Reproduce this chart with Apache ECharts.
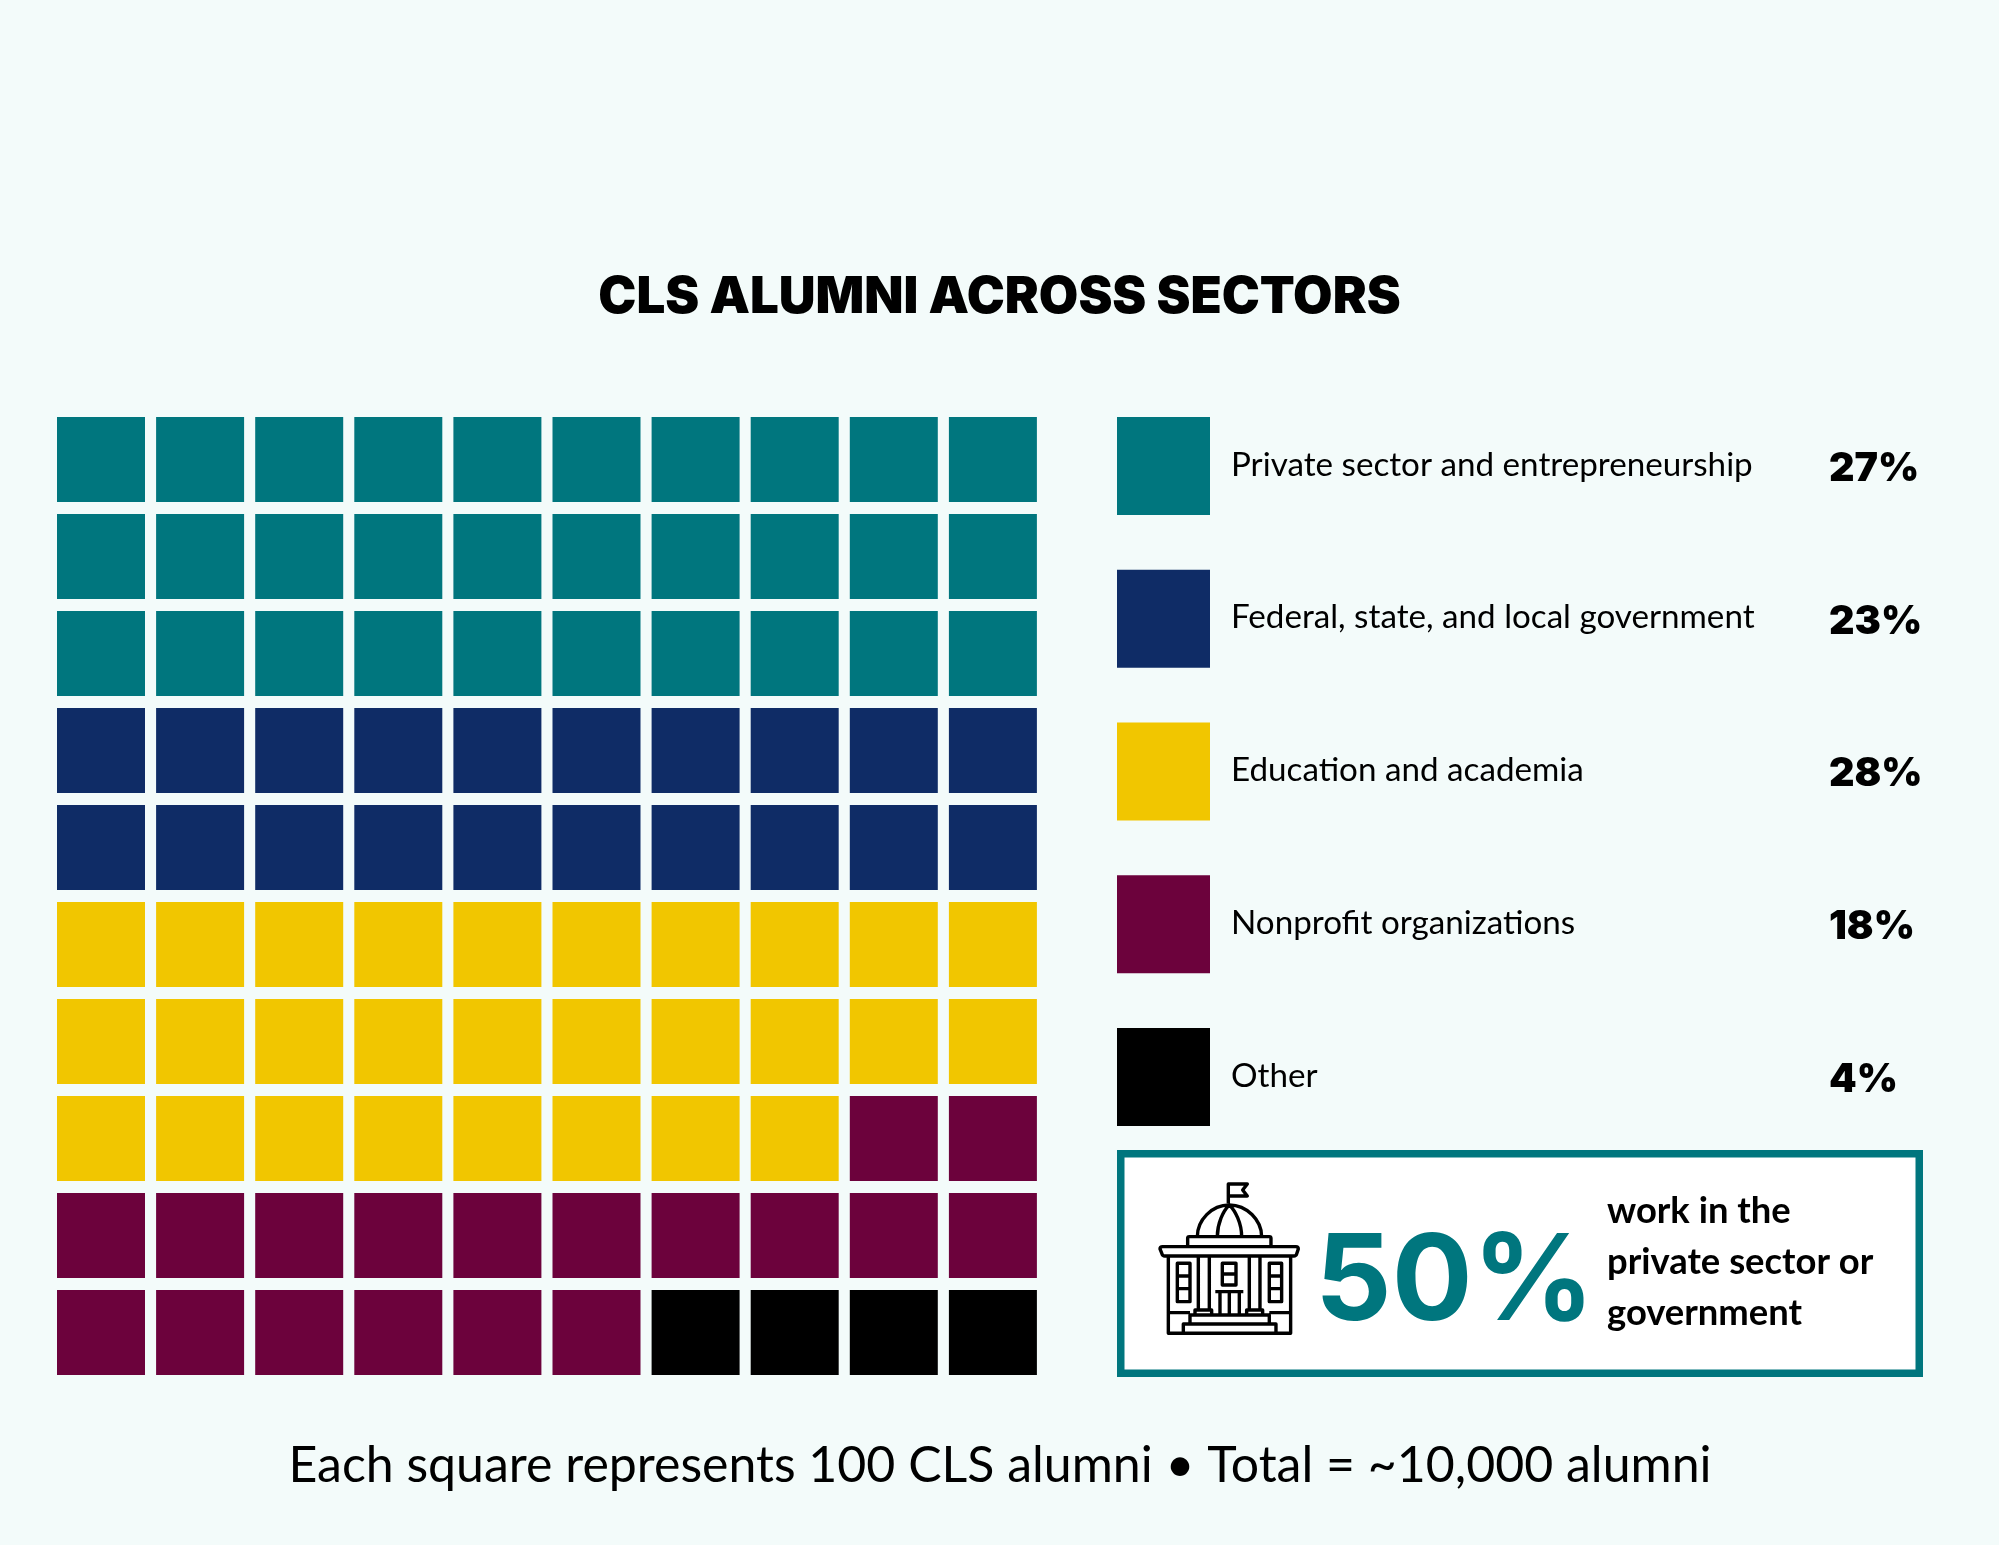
<!DOCTYPE html>
<html><head><meta charset="utf-8">
<style>html,body{margin:0;padding:0;background:#f3fbfa}#c{width:1999px;height:1545px}</style>
<script src="https://cdn.jsdelivr.net/npm/echarts@6/dist/echarts.min.js"></script>
</head><body><div id="c"></div>
<script>
const sectors = ['Private sector and entrepreneurship','Federal, state, and local government','Education and academia','Nonprofit organizations','Other'];
const sharePercent = [27,23,28,18,4];
const squareCounts = [30,20,28,18,4];
const sectorColors = ['#00767e','#0f2c66','#f1c600','#6c023c','#000000'];
const columns = [0,1,2,3,4,5,6,7,8,9];
const rows = [0,1,2,3,4,5,6,7,8,9];
const titleText = 'CLS ALUMNI ACROSS SECTORS';
const footerText = 'Each square represents 100 CLS alumni • Total = ~10,000 alumni';
const calloutValue = '50%';
const calloutLines = ['work in the','private sector or','government'];

const squares = [];
let n = 0;
squareCounts.forEach((count, s) => { for (let i = 0; i < count; i++, n++) squares.push([n % 10, Math.floor(n / 10), s]); });

const FONT = 'Lato';
const HEAVY = 'Inter';
const iconPath = 'M265,100V42H322L308,60L322,78H265 M172,200C172,150 215,105 268,105C320,105 365,150 365,200 M232,200C232,160 250,122 268,105C286,122 305,160 305,200 M143,228V205Q143,200 148,200H388Q393,200 393,205V228 M68,230H468Q475,230 475,237L470,252Q468,258 462,258H74Q68,258 66,252L60,237Q60,230 68,230Z M85,258V490H452V258 M175,258V420M208,258V420M328,258V420M360,258V420 M165,435V420H215V435 M320,435V420H368V435 M112,280H150V395H112Z M112,318H150M112,356H150 M388,280H425V395H388Z M388,318H425M388,356H425 M247,280H288V345H247Z M247,312H288 M226,365H310 M240,365V435M268,365V435M298,365V435 M85,428H150M388,428H452 M150,462V435H388V462 M130,490V462H408V490';

const chart = echarts.init(document.getElementById('c'), null, {renderer:'canvas'});
chart.setOption({
  animation:false,
  backgroundColor:'#f3fbfa',
  title:{text:titleText,left:'center',top:267,textStyle:{fontFamily:HEAVY,fontWeight:900,fontSize:51,color:'#000'}},
  grid:[
    {left:51.45,top:411,width:991,height:970},
    {left:1117,top:389.6,width:806,height:763.8}
  ],
  xAxis:[
    {type:'category',gridIndex:0,data:columns,show:false},
    {type:'value',gridIndex:1,min:0,max:1,show:false}
  ],
  yAxis:[
    {type:'category',gridIndex:0,data:rows,inverse:true,show:false},
    {type:'category',gridIndex:1,data:sectors,inverse:true,show:false}
  ],
  series:[
    {type:'custom',xAxisIndex:0,yAxisIndex:0,coordinateSystem:'cartesian2d',data:squares,silent:true,
     renderItem(p,api){
       const c=api.coord([api.value(0),api.value(1)]);
       const w=88,h=85;
       return {type:'rect',shape:{x:c[0]-w/2,y:c[1]-h/2,width:w,height:h},style:{fill:sectorColors[api.value(2)]}};
     }},
    {type:'custom',xAxisIndex:1,yAxisIndex:1,coordinateSystem:'cartesian2d',silent:true,
     data:sectors.map((s,i)=>[0,i]),
     renderItem(p,api){
       const i=api.value(1);
       const c=api.coord([0,i]);
       return {type:'group',children:[
         {type:'rect',shape:{x:c[0],y:c[1]-49,width:93,height:98},style:{fill:sectorColors[i]}},
         {type:'text',x:c[0]+114,y:c[1]-1,style:{text:sectors[i],fontFamily:FONT,fontSize:33.2,fill:'#000',verticalAlign:'middle'}},
         {type:'text',x:c[0]+712,y:c[1]+3,style:{text:sharePercent[i]+'%',fontFamily:HEAVY,fontWeight:900,fontSize:39.5,fill:'#000',verticalAlign:'middle'}}
       ]};
     }},
    {type:'custom',coordinateSystem:'none',silent:true,data:[0],z:5,
     renderItem(){
       return {type:'path',shape:{pathData:iconPath,layout:'cover',x:1160,y:1184,width:138.3,height:149.3},style:{fill:'none',stroke:'#000',lineWidth:3.4,lineJoin:'round'}};
     }}
  ],
  graphic:[
    {type:'rect',shape:{x:1120.75,y:1153.75,width:798.5,height:219.5},style:{fill:'#fff',stroke:'#00767e',lineWidth:7.5}},
    {type:'text',x:1315,y:1284,style:{text:calloutValue,fontFamily:HEAVY,fontWeight:700,fontSize:120,fill:'#00767e',verticalAlign:'middle'}},
    {type:'text',x:1607,y:1211,style:{text:calloutLines[0],fontFamily:FONT,fontWeight:700,fontSize:36.4,fill:'#000',verticalAlign:'middle'}},
    {type:'text',x:1607,y:1262,style:{text:calloutLines[1],fontFamily:FONT,fontWeight:700,fontSize:36.4,fill:'#000',verticalAlign:'middle'}},
    {type:'text',x:1607,y:1313,style:{text:calloutLines[2],fontFamily:FONT,fontWeight:700,fontSize:36.4,fill:'#000',verticalAlign:'middle'}},
    {type:'text',x:1000,y:1466,style:{text:footerText,fontFamily:FONT,fontSize:50,fill:'#000',align:'center',verticalAlign:'middle'}}
  ]
});
</script></body></html>
